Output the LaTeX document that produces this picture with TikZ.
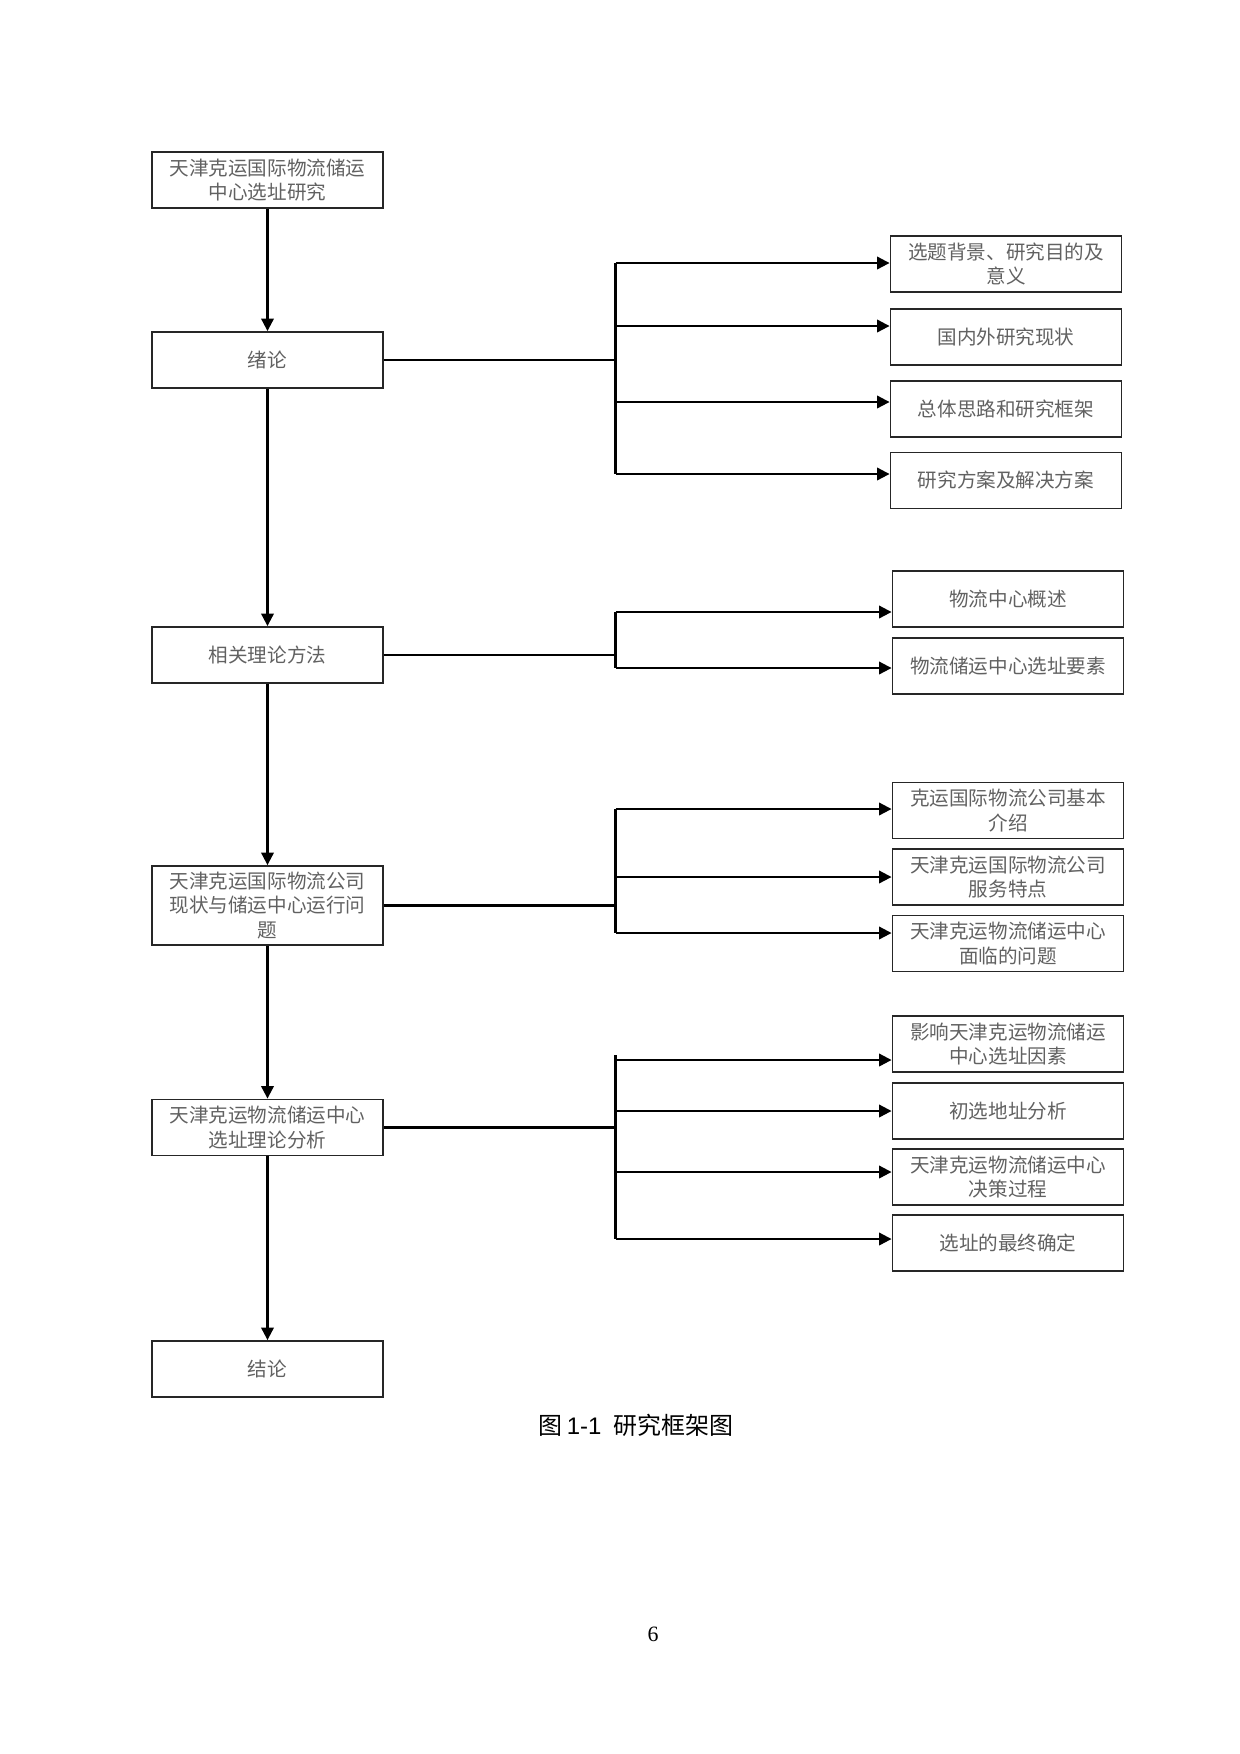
\documentclass[tikz,border=0pt]{standalone}
\usepackage{fontspec}
\setmainfont{Liberation Serif}
\newfontfamily\cjk{Noto Sans CJK SC}
\newfontfamily\capsans{Liberation Sans}
\usetikzlibrary{arrows.meta}
\begin{document}
\begin{tikzpicture}[x=0.48pt,y=-0.48pt,
  box/.style={draw=black!85,line width=0.9pt,minimum width=231*0.48pt,inner sep=1pt,
    align=center,font=\cjk\fontsize{9.4}{11.8}\selectfont,text=black!62},
  lbox/.style={box,minimum height=56*0.48pt},
  rbox/.style={box,minimum height=56*0.48pt},
  conn/.style={line width=1pt,black},
  arr/.style={conn,-{Triangle[length=6pt,width=6pt]}}]
\useasboundingbox (0,0) rectangle (1240,1754);
% left column
\node[lbox] (l1) at (267.5,180) {天津克运国际物流储运\\中心选址研究};
\node[lbox] (l2) at (267.5,360) {绪论};
\node[lbox] (l3) at (267.5,655) {相关理论方法};
\node[lbox,minimum height=79*0.48pt] (l4) at (267.5,905.5) {天津克运国际物流公司\\现状与储运中心运行问\\题};
\node[lbox] (l5) at (267.5,1127.5) {天津克运物流储运中心\\选址理论分析};
\node[lbox] (l6) at (267.5,1369) {结论};
\foreach \a/\b in {l1/l2,l2/l3,l3/l4,l4/l5,l5/l6} \draw[arr] (\a) -- (\b);
% group 1
\node[rbox] (r11) at (1006,264) {选题背景、研究目的及\\意义};
\node[rbox] (r12) at (1006,337) {国内外研究现状};
\node[rbox] (r13) at (1006,409) {总体思路和研究框架};
\node[rbox] (r14) at (1006,480.5) {研究方案及解决方案};
% group 2
\node[rbox] (r21) at (1008,599) {物流中心概述};
\node[rbox] (r22) at (1008,666) {物流储运中心选址要素};
% group 3
\node[rbox] (r31) at (1008,810.5) {克运国际物流公司基本\\介绍};
\node[rbox] (r32) at (1008,877) {天津克运国际物流公司\\服务特点};
\node[rbox] (r33) at (1008,943.5) {天津克运物流储运中心\\面临的问题};
% group 4
\node[rbox] (r41) at (1008,1044) {影响天津克运物流储运\\中心选址因素};
\node[rbox] (r42) at (1008,1111) {初选地址分析};
\node[rbox] (r43) at (1008,1177) {天津克运物流储运中心\\决策过程};
\node[rbox] (r44) at (1008,1243) {选址的最终确定};
% junctions
\coordinate (j1) at (615.5,360);
\coordinate (j2) at (615.5,655);
\coordinate (j3) at (615.5,905.5);
\coordinate (j4) at (615.5,1127.5);
\coordinate (b11) at (615.5,263);
\coordinate (b12) at (615.5,326);
\coordinate (b13) at (615.5,402);
\coordinate (b14) at (615.5,474);
\coordinate (b21) at (615.5,612);
\coordinate (b22) at (615.5,668);
\coordinate (b31) at (615.5,809);
\coordinate (b32) at (615.5,877);
\coordinate (b33) at (615.5,933);
\coordinate (b41) at (615.5,1060);
\coordinate (b42) at (615.5,1111);
\coordinate (b43) at (615.5,1172);
\coordinate (b44) at (615.5,1239);
\coordinate (t4) at (615.5,1055);
% main lines
\draw[conn] (l2.east) -- (j1);
\draw[conn] (l3.east) -- (j2);
\draw[conn] (l4.east) -- (j3);
\draw[conn] (l5.east) -- (j4);
% brackets
\draw[conn] (b11) -- (b14);
\draw[conn] (b21) -- (b22);
\draw[conn] (b31) -- (b33);
\draw[conn] (t4) -- (b44);
% branches
\foreach \b/\r in {b11/r11,b12/r12,b13/r13,b14/r14,b21/r21,b22/r22,b31/r31,b32/r32,b33/r33,b41/r41,b42/r42,b43/r43,b44/r44}
  \draw[arr] (\b) -- (\r.west |- \b);
% caption and page number
\node[font=\cjk\fontsize{11.5}{13}\selectfont] (cap) at (636,1425) {图\,{\capsans 1-1}\hspace{0.5em}研究框架图};
\node[font=\fontsize{10.5}{12}\selectfont] (pg) at (653,1634) {6};
\end{tikzpicture}
\end{document}
